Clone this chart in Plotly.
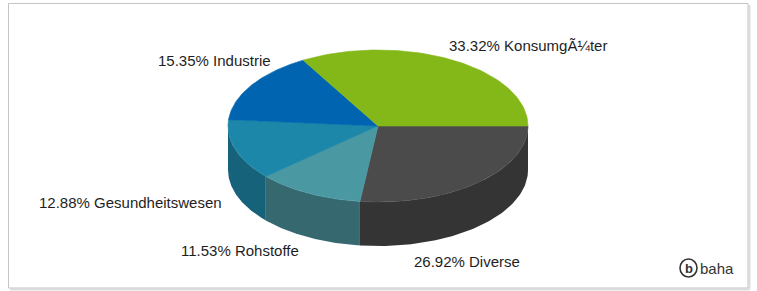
import numpy as np
import plotly.graph_objects as go

# ---- data ----
categories = ["Diverse", "Rohstoffe", "Gesundheitswesen", "Industrie", "KonsumgÃ¼ter"]
shares = [26.92, 11.53, 12.88, 15.35, 33.32]
top_colors = ["#4b4b4b", "#4a98a2", "#1c87a8", "#0064b0", "#84b819"]
side_colors = ["#343434", "#35696f", "#16627a", "#004a85", "#5f8a10"]

# ---- geometry of the 3D pie (pixel space) ----
W, H = 757, 291
cx, cy, rx, ry, depth = 378, 126, 150, 76, 44


def arc(a0, a1, dy=0, n=80):
    t = np.radians(np.linspace(a0, a1, n))
    return cx + rx * np.cos(t), cy + ry * np.sin(t) + dy


fig = go.Figure()
total = sum(shares)
angles = []
start = 0.0
for s in shares:
    end = start + s / total * 360.0
    angles.append((start, end))
    start = end

# outer walls (front half only)
for (a0, a1), col in zip(angles, side_colors):
    b0, b1 = max(a0, 0), min(a1, 180)
    if b1 > b0:
        xt, yt = arc(b0, b1)
        xb, yb = arc(b1, b0, dy=depth)
        fig.add_trace(go.Scatter(x=np.r_[xt, xb, xt[0]], y=np.r_[yt, yb, yt[0]],
                                 fill="toself", fillcolor=col, mode="lines",
                                 line=dict(width=0, color=col), hoverinfo="skip",
                                 showlegend=False))

# top faces
for (a0, a1), col, name in zip(angles, top_colors, categories):
    xt, yt = arc(a0, a1)
    fig.add_trace(go.Scatter(x=np.r_[cx, xt, cx], y=np.r_[cy, yt, cy],
                             fill="toself", fillcolor=col, mode="lines",
                             line=dict(width=0.6, color=col), hoverinfo="skip",
                             name=name, showlegend=False))

# labels
label_pos = {
    "KonsumgÃ¼ter": (447, 45),
    "Industrie": (156, 60),
    "Gesundheitswesen": (37, 202),
    "Rohstoffe": (179, 250),
    "Diverse": (412, 261),
}
for name, s in zip(categories, shares):
    x, y = label_pos[name]
    fig.add_annotation(x=x, y=y, xref="x", yref="y", text=f"{s:.2f}% {name}",
                       showarrow=False, xanchor="left", yanchor="middle",
                       font=dict(family="Liberation Sans, Arial", size=15, color="#1e1e1e"))

# frame with soft shadow
fig.add_shape(type="line", x0=749.5, y0=5, x1=749.5, y1=289.5, xref="x", yref="y",
              line=dict(color="#dddddd", width=2), layer="below")
fig.add_shape(type="line", x0=10, y0=289.5, x1=749.5, y1=289.5, xref="x", yref="y",
              line=dict(color="#dddddd", width=2), layer="below")
fig.add_shape(type="rect", x0=8.5, y0=3.5, x1=748, y1=288, xref="x", yref="y",
              line=dict(color="#c4c4c4", width=1), layer="below")

# baha logo
fig.add_shape(type="circle", x0=680, y0=259, x1=697, y1=277, xref="x", yref="y",
              line=dict(color="#333333", width=1.6))
fig.add_annotation(x=688.5, y=268, xref="x", yref="y", text="<b>b</b>", showarrow=False,
                   font=dict(family="Liberation Sans, Arial", size=13, color="#333333"))
fig.add_annotation(x=697.5, y=268, xref="x", yref="y", text="baha", showarrow=False,
                   xanchor="left", font=dict(family="Liberation Sans, Arial", size=15, color="#333333"))

fig.update_layout(
    width=W, height=H, margin=dict(l=0, r=0, t=0, b=0),
    paper_bgcolor="white", plot_bgcolor="white",
    xaxis=dict(range=[0, W], visible=False, fixedrange=True),
    yaxis=dict(range=[H, 0], visible=False, fixedrange=True),
)
fig.write_html("out.html", config={"displayModeBar": False},
               post_script="document.body.style.margin='0';")
